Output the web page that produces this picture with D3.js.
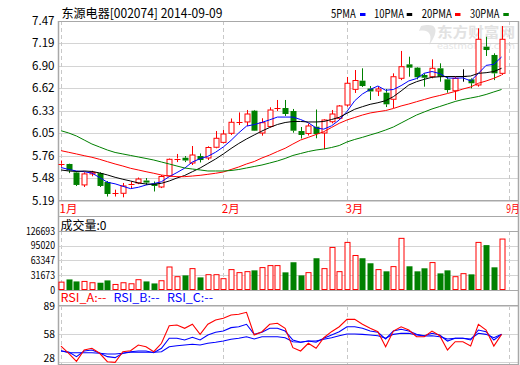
<!DOCTYPE html>
<html><head><meta charset="utf-8">
<script src="https://cdn.jsdelivr.net/npm/d3@7"></script>
<style>body{margin:0;background:#fff}svg{display:block}</style>
</head><body>
<svg id="c" width="520" height="365"></svg>
<script>
const dates = ["01-02","01-03","01-06","01-07","01-08","01-09","01-10","01-13","01-14","01-15","01-16","01-17","01-20","01-21","01-22","01-23","01-24","01-27","01-28","01-29","01-30",
"02-07","02-10","02-11","02-12","02-13","02-14","02-17","02-18","02-19","02-20","02-21","02-24","02-25","02-26","02-27","02-28",
"03-03","03-04","03-05","03-06","03-07","03-10","03-11","03-12","03-13","03-14","03-17","03-18","03-19","03-20","03-21","03-24","03-25","03-26","03-27","03-28","03-31"];
const monthLabels = ["1月","2月","3月","9月"];
const monthIndex = [0,21,37,58];
const open  = [5.65,5.656,5.548,5.39,5.53,5.54,5.427,5.275,5.284,5.383,5.415,5.446,5.408,5.364,5.504,5.719,5.735,5.668,5.757,5.732,5.868,5.93,6.045,6.182,6.189,6.332,6.049,6.132,6.36,6.366,6.328,6.074,6.043,6.129,6.049,6.192,6.236,6.404,6.603,6.713,6.614,6.582,6.56,6.477,6.743,6.92,6.878,6.785,6.763,6.87,6.73,6.585,6.772,6.73,6.658,7.144,7.039,6.806];
const high  = [5.70,5.66,5.567,5.55,5.57,5.55,5.44,5.33,5.415,5.434,5.484,5.478,5.434,5.516,5.725,5.783,5.757,5.884,5.789,5.88,6.074,6.087,6.233,6.31,6.341,6.341,6.236,6.375,6.468,6.468,6.354,6.125,6.17,6.347,6.223,6.341,6.404,6.76,6.848,6.87,6.645,6.637,6.607,6.806,7.09,7.017,6.886,6.806,6.984,6.933,6.772,6.76,6.857,6.743,7.377,7.27,7.06,7.406];
const low   = [5.62,5.54,5.376,5.364,5.50,5.364,5.243,5.243,5.233,5.35,5.40,5.39,5.307,5.35,5.49,5.68,5.68,5.643,5.675,5.706,5.855,5.918,6.024,6.15,6.138,6.074,6.015,6.121,6.328,6.265,6.053,5.979,6.017,5.982,5.842,6.172,6.214,6.383,6.557,6.633,6.468,6.518,6.378,6.366,6.72,6.763,6.73,6.637,6.743,6.70,6.56,6.468,6.70,6.616,6.637,7.026,6.72,6.785];
const close = [5.66,5.573,5.39,5.53,5.55,5.377,5.275,5.288,5.377,5.396,5.465,5.42,5.377,5.497,5.715,5.725,5.70,5.77,5.706,5.865,5.982,6.036,6.185,6.189,6.29,6.078,6.18,6.341,6.366,6.29,6.078,6.024,6.138,6.036,6.214,6.29,6.392,6.68,6.715,6.645,6.576,6.607,6.413,6.763,6.89,6.878,6.756,6.75,6.87,6.763,6.594,6.743,6.772,6.68,7.238,7.102,6.806,7.238];
const volume = [16900,22700,18400,18400,15600,15600,20600,11900,15600,13400,22100,18400,14100,19900,49400,28600,31400,45900,27100,32900,32900,24300,43800,37300,39400,42200,48100,52400,52400,37900,59600,31400,37300,68200,45900,91400,39400,102200,74100,68200,57400,43800,40100,50200,110900,50900,40100,46600,58900,35700,42200,28600,35100,33600,102200,96400,48700,109400];
const ma5  = [5.611,5.586,5.567,5.558,5.54,5.484,5.424,5.404,5.373,5.343,5.36,5.389,5.407,5.431,5.495,5.547,5.603,5.681,5.723,5.753,5.805,5.872,5.955,6.051,6.136,6.156,6.184,6.216,6.251,6.251,6.251,6.22,6.179,6.113,6.098,6.14,6.214,6.322,6.458,6.544,6.602,6.645,6.591,6.601,6.65,6.71,6.74,6.807,6.829,6.803,6.747,6.744,6.748,6.71,6.805,6.907,6.92,7.013];
const ma10 = [5.58,5.567,5.561,5.567,5.561,5.542,5.517,5.487,5.462,5.44,5.415,5.402,5.398,5.411,5.44,5.478,5.51,5.558,5.605,5.662,5.719,5.783,5.852,5.916,5.973,6.024,6.074,6.119,6.157,6.182,6.195,6.195,6.189,6.189,6.195,6.22,6.248,6.299,6.35,6.383,6.413,6.433,6.459,6.51,6.582,6.658,6.70,6.73,6.756,6.763,6.766,6.766,6.766,6.772,6.806,6.814,6.829,6.87];
const ma20 = [5.825,5.804,5.783,5.761,5.741,5.715,5.685,5.656,5.63,5.601,5.58,5.558,5.538,5.516,5.503,5.495,5.495,5.503,5.512,5.525,5.538,5.554,5.586,5.618,5.656,5.687,5.732,5.77,5.814,5.855,5.909,5.96,5.994,6.03,6.066,6.119,6.172,6.214,6.246,6.277,6.303,6.319,6.334,6.36,6.392,6.417,6.446,6.474,6.502,6.525,6.55,6.576,6.607,6.633,6.68,6.709,6.743,6.785];
const ma30 = [6.078,6.049,6.011,5.96,5.909,5.871,5.833,5.802,5.783,5.764,5.745,5.726,5.706,5.681,5.656,5.63,5.605,5.592,5.58,5.567,5.567,5.567,5.573,5.586,5.605,5.624,5.643,5.668,5.694,5.726,5.764,5.789,5.814,5.833,5.846,5.865,5.89,5.935,5.967,5.994,6.024,6.053,6.087,6.125,6.176,6.227,6.277,6.316,6.354,6.385,6.417,6.449,6.474,6.493,6.512,6.538,6.57,6.601];
const rsiA = [44.9,37,28.2,40.6,42.4,37,27.8,27.1,38.7,39.8,46,44.2,38.7,47.9,67.1,67.9,64.3,68.7,57.7,68.7,73.4,75.2,78.8,79.6,81.8,57,60.6,68.7,69.8,64.3,43.1,39.5,47.9,42.4,54,60.6,66,74.1,74.1,68.7,64.3,60.6,44.2,61.3,66,62.4,55.1,55.1,61.3,56.2,40.6,49.6,49.6,44.9,68.7,62.4,44.9,57.7];
const rsiB = [39.5,38.4,33.3,39.5,40.6,37.3,33.3,32.2,37,38.7,39.5,39.5,37.6,42.4,53.4,53.4,51.5,54.5,51.5,57,59.9,61.3,65,66,68.7,57.7,59.9,64.3,64.3,61.3,51.5,49,50.4,49,53.4,57,60.6,66,66,64.3,61.3,59.9,52.6,61.3,63.2,61.3,57.7,56.2,58.8,57,50.4,53.4,53.4,51.5,62.4,60.6,51.5,57.7];
const rsiC = [39.8,37.6,37.6,37.6,37.6,37,36.2,36.2,37,38.1,38.1,38.1,38.1,38.7,44.2,45.3,46,46.8,46,47.9,49,50.4,52.3,53.4,55.1,52.6,55.1,55.1,55.1,54,49.6,49,50.4,50.4,52.3,54,56.2,58.1,58.1,57.7,57,56.2,53.4,57.7,58.8,58.8,57,55.9,56.2,55.1,52.6,53.4,53.4,52.6,58.8,57.7,54,57.7];
const priceTicks = ["7.47","7.19","6.90","6.62","6.33","6.05","5.76","5.48","5.19"];
const volTicks = ["126693","95020","63347","31673","0"];
const rsiTicks = ["89","58","28"];
const maNames = ["5PMA","10PMA","20PMA","30PMA"];
const maColors = ["#0000ff","#000000","#ff0000","#008000"];

const RED="#ff0000", GREEN="#008000", GRID="#d4d4d4", FRAME="#a8a8a8";
const FONT="'Noto Sans CJK SC','DejaVu Sans',sans-serif";
const svg = d3.select("#c");
const L=59, R=519;
const x = d3.scaleLinear().domain([0,58]).range([61,509.3]);
const yP = d3.scaleLinear().domain([5.19,7.47]).range([200.7,21]);
const yV = d3.scaleLinear().domain([0,126693]).range([290,231]);
const yR = d3.scaleLinear().domain([28,89]).range([361.5,305.7]);

function hline(y,x1,x2,c,w){svg.append("line").attr("x1",x1).attr("x2",x2).attr("y1",y).attr("y2",y).attr("stroke",c).attr("stroke-width",w||1).attr("shape-rendering","crispEdges");}
function txt(s,xx,yy,opt){const t=svg.append("text").attr("x",xx).attr("y",yy).text(s).attr("font-family",FONT).attr("font-size",(opt&&opt.size)||12).attr("fill",(opt&&opt.fill)||"#000");
 if(opt&&opt.anchor)t.attr("text-anchor",opt.anchor); if(opt&&opt.len){t.attr("textLength",opt.len).attr("lengthAdjust","spacingAndGlyphs");} if(opt&&opt.weight)t.attr("font-weight",opt.weight); return t;}

// watermark
svg.append("path").attr("d","M421,26 C441,21 437,35 429,45 C433,35 429,29 419,31 Z").attr("fill","#e4e4e4");
txt("东方财富网",437,37,{size:14,fill:"#e2e2e2",weight:"bold",len:78});
txt("eastmoney.com",437,48.5,{size:8,fill:"#e6e6e6",len:78});

// grids main
priceTicks.forEach(t=>{hline(Math.round(yP(+t))+0.5,L,R,GRID);
  txt(t,54.5,yP(+t)+4,{anchor:"end",len:22.5,size:11.5});});
// vertical dashed
function vdash(y1,y2){monthIndex.forEach(i=>{svg.append("line").attr("x1",Math.round(x(i))+0.5).attr("x2",Math.round(x(i))+0.5).attr("y1",y1).attr("y2",y2).attr("stroke","#c8c8c8").attr("stroke-dasharray","4,3");});}
vdash(21,201); vdash(231,290); vdash(306,364);

// volume grid
volTicks.forEach(t=>{hline(Math.round(yV(+t))+0.5,L,R,GRID); txt(t,55,yV(+t)+3.5,{anchor:"end",len:t.length*4.85,size:10});});
// rsi grid
rsiTicks.forEach(t=>{hline(Math.round(yR(+t))+0.5,L,R,GRID); txt(t,55,Math.min(yR(+t)+4,362),{anchor:"end",len:11.5,size:10});});

// frames
hline(21.5,L,R,FRAME); hline(200.5,L,R,FRAME,1.5);
hline(216.5,L,R,FRAME); hline(231.5,L,R,FRAME); hline(290.5,L,R,FRAME,1.5);
hline(305.5,L,R,FRAME); hline(364.5,L,R,FRAME,1.5);
svg.append("line").attr("x1",L-0.5).attr("x2",L-0.5).attr("y1",21).attr("y2",365).attr("stroke",FRAME).attr("stroke-width",1.5);
svg.append("line").attr("x1",R-0.5).attr("x2",R-0.5).attr("y1",21).attr("y2",365).attr("stroke",FRAME).attr("stroke-width",1.5);

// month labels
monthIndex.forEach((i,k)=>{
  const last = k===monthIndex.length-1;
  txt(monthLabels[k], last? 506.3 : x(i)-1.5, 213, last? {fill:RED,size:11.5,len:13.3}:{fill:RED,size:11.5});
});

// title + legend
txt("东源电器[002074] 2014-09-09",61.5,18,{size:12.5,len:161});
const legX=[331,374,421.7,470], legW=[24.7,30,30,29.3], dashX=[360,406.7,455,503.3];
maNames.forEach((n,k)=>{txt(n,legX[k],18,{size:11.5,len:legW[k]}); svg.append("rect").attr("x",dashX[k]).attr("y",13).attr("width",5.5).attr("height",3).attr("fill",maColors[k]);});

// candles
const cw=5;
const g=svg.append("g");
dates.forEach((d,i)=>{
  const up=close[i]>open[i], flat=close[i]===open[i];
  const col=flat?"#000":(up?RED:GREEN);
  const cx=Math.round(x(i))+0.5;
  const yt=yP(Math.max(open[i],close[i])), yb=yP(Math.min(open[i],close[i]));
  g.append("line").attr("x1",cx).attr("x2",cx).attr("y1",yP(high[i])).attr("y2",yt).attr("stroke",col);
  g.append("line").attr("x1",cx).attr("x2",cx).attr("y1",yb).attr("y2",yP(low[i])).attr("stroke",col);
  if(yb-yt<1.5){g.append("line").attr("x1",cx-3).attr("x2",cx+3).attr("y1",Math.round(yt)+0.5).attr("y2",Math.round(yt)+0.5).attr("stroke",col);}
  else if(up){g.append("rect").attr("x",cx-2.5).attr("y",yt).attr("width",cw).attr("height",yb-yt).attr("fill","#fff").attr("stroke",col);}
  else{g.append("rect").attr("x",cx-3).attr("y",yt).attr("width",cw+1).attr("height",yb-yt).attr("fill",col);}
  // volume
  const vup=close[i]>=open[i];
  const vt=yV(volume[i]), vb=yV(0);
  if(vup) g.append("rect").attr("x",cx-2.5).attr("y",vt).attr("width",cw).attr("height",vb-vt-0.5).attr("fill","#fff").attr("stroke",RED);
  else g.append("rect").attr("x",cx-3).attr("y",vt).attr("width",cw+1).attr("height",vb-vt).attr("fill",GREEN);
});

// MA lines
[ma5,ma10,ma20,ma30].forEach((arr,k)=>{
  svg.append("path").attr("d",d3.line().x((d,i)=>x(i)).y(d=>yP(d))(arr)).attr("fill","none").attr("stroke",maColors[k]).attr("stroke-width",1);
});

// volume label
txt("成交量:0",60.5,230,{size:12,len:46});
// RSI legend
txt("RSI_A:--",60.5,302,{fill:RED,len:46,size:11.5});
txt("RSI_B:--",113.5,302,{fill:"#0000ff",len:46,size:11.5});
txt("RSI_C:--",167,302,{fill:"#0000ff",len:46,size:11.5});
[[rsiC,"#0000ff"],[rsiB,"#0000ff"],[rsiA,RED]].forEach(([arr,c])=>{
  svg.append("path").attr("d",d3.line().x((d,i)=>x(i)).y(d=>yR(d))(arr)).attr("fill","none").attr("stroke",c).attr("stroke-width",1.1);
});
</script>
</body></html>
